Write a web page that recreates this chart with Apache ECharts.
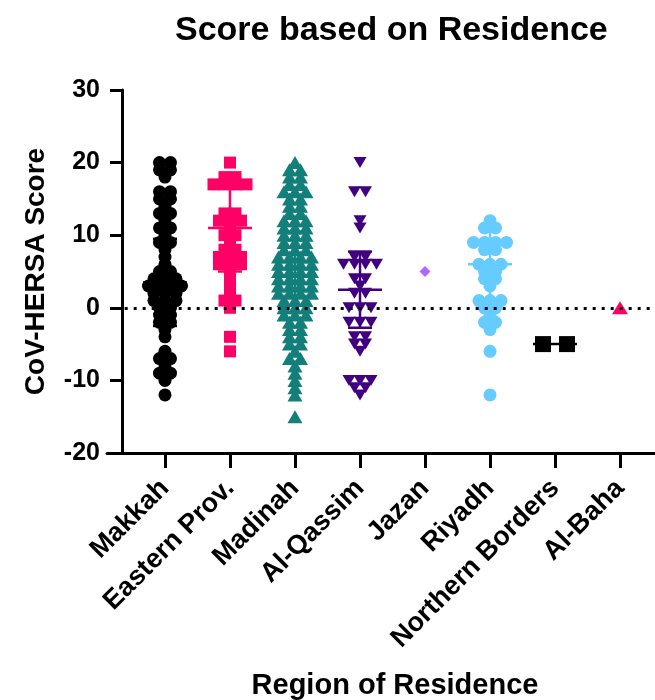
<!DOCTYPE html>
<html>
<head>
<meta charset="utf-8">
<script src="https://cdn.jsdelivr.net/npm/echarts@6/dist/echarts.min.js"></script>
<style>
  html, body { margin: 0; padding: 0; background: #fff; }
  #chart { width: 655px; height: 700px; }
</style>
</head>
<body>
<div id="chart"></div>
<script>
// categories
const regions = ['Makkah', 'Eastern Prov.', 'Madinah', 'Al-Qassim', 'Jazan', 'Riyadh', 'Northern Borders', 'Al-Baha'];
const yTicks = [-20, -10, 0, 10, 20, 30];

// individual scores per region
const makkah = [20, 20, 19, 19, 18, 16, 16, 15, 15, 14, 13, 13, 12, 11, 11, 10, 9, 9, 8, 7, 6, 5, 5, 4, 4, 4,
  3, 3, 3, 3, 2, 2, 2, 1, 1, 1, 0, 0, -1, -1, -2, -2, -3, -4, -6, -7, -7, -8, -9, -9, -10, -12];
const eastern = [20, 18, 18, 17, 17, 17, 17, 13, 13, 12, 12, 12, 11, 10, 10, 9, 8, 8, 7, 7, 7, 6, 6, 6, 5, 4,
  3, 2, 1, 1, 0, -4, -6];
const madinah = [20, 19, 19, 18, 18, 17, 17, 16, 16, 16, 15, 15, 14, 14, 13, 13, 12, 12, 12, 11, 11, 11,
  10, 10, 10, 9, 9, 9, 8, 8, 8, 7, 7, 7, 7, 6, 6, 6, 6, 5, 5, 5, 5, 4, 4, 4, 4, 3, 3, 3, 3, 2, 2, 2, 2,
  1, 1, 1, 0, 0, 0, -1, -1, -1, -2, -2, -3, -3, -4, -4, -5, -5, -6, -7, -7, -8, -9, -10, -11, -12, -15];
const qassim = [20, 16, 16, 12, 11, 7, 7, 6, 6, 6, 6, 4, 4, 3, 2, 2, 0, 0, 0, -2, -2, -2, -4, -4, -5, -5, -6,
  -10, -10, -10, -11, -11, -12];
const jazan = [5];
const riyadh = [12, 11, 11, 9, 9, 9, 9, 8, 8, 6, 6, 6, 5, 5, 4, 4, 3, 1, 1, 1, 0, 0, -1, -2, -2, -3, -6, -12];
const northern = [-5, -5];
const baha = [0];

// mean and error bar half-length per region (null = not drawn)
const means = [3.5, 11, 4.5, 2.5, null, 6, -5, null];
const errs = [6, 6, 6, 5.25, null, 5, 0, null];

const groups = [makkah, eastern, madinah, qassim, jazan, riyadh, northern, baha];

const styles = [
  { color: '#000000', symbol: 'circle', size: 13, rotate: 0, gap: 11 },
  { color: '#FF0066', symbol: 'rect', size: 12, rotate: 0, gap: 11 },
  { color: '#127F7B', symbol: 'triangle', size: [15, 13], rotate: 0, gap: 11 },
  { color: '#400080', symbol: 'triangle', size: [13, 11], rotate: 180, gap: 11 },
  { color: '#B266FF', symbol: 'diamond', size: 11, rotate: 0, gap: 11 },
  { color: '#66CCFF', symbol: 'circle', size: 13, rotate: 0, gap: 11 },
  { color: '#000000', symbol: 'rect', size: 16, rotate: 0, gap: 24 },
  { color: '#FF0066', symbol: 'triangle', size: [16, 13], rotate: 0, gap: 11 },
];

const gridLeft = 107, gridRight = 0, gridTop = 90, gridBottom = 247;
const xMin = 0.108, xMax = 8.538;
const pxPerUnit = (655 - gridLeft - gridRight) / (xMax - xMin);
const font = '"Liberation Sans", Arial, sans-serif';

// simple GraphPad-like layout: equal scores sit side by side, centred on the category
function swarm(values, pos, gapPx) {
  const counts = {};
  values.forEach(v => { counts[v] = (counts[v] || 0) + 1; });
  const seen = {};
  return values.map(v => {
    seen[v] = seen[v] === undefined ? 0 : seen[v] + 1;
    const off = (seen[v] - (counts[v] - 1) / 2) * gapPx / pxPerUnit;
    return [pos + off, v];
  });
}

const chart = echarts.init(document.getElementById('chart'), null, { renderer: 'canvas' });

const series = groups.map((vals, i) => ({
  name: regions[i],
  type: 'scatter',
  data: swarm(vals, i + 1, styles[i].gap),
  symbol: styles[i].symbol,
  symbolSize: styles[i].size,
  symbolRotate: styles[i].rotate,
  itemStyle: { color: styles[i].color, opacity: 1 },
  emphasis: { disabled: true },
  z: 3,
}));

const barData = [];
means.forEach((m, i) => {
  if (m !== null) barData.push([i + 1, m, errs[i], i]);
});

series.push({
  type: 'custom',
  z: 4,
  data: barData,
  renderItem(params, api) {
    const x = api.value(0), m = api.value(1), e = api.value(2);
    const color = styles[api.value(3)].color;
    const pm = api.coord([x, m]);
    const pt = api.coord([x, m + e]);
    const pb = api.coord([x, m - e]);
    const st = { stroke: color, lineWidth: 2.5 };
    const children = [
      { type: 'line', shape: { x1: pm[0] - 22, y1: pm[1], x2: pm[0] + 22, y2: pm[1] }, style: st },
    ];
    if (e > 0) {
      children.push(
        { type: 'line', shape: { x1: pt[0], y1: pt[1], x2: pb[0], y2: pb[1] }, style: st },
        { type: 'line', shape: { x1: pt[0] - 12, y1: pt[1], x2: pt[0] + 12, y2: pt[1] }, style: st },
        { type: 'line', shape: { x1: pb[0] - 12, y1: pb[1], x2: pb[0] + 12, y2: pb[1] }, style: st }
      );
    }
    return { type: 'group', children };
  },
});

// dotted zero line
series.push({
  type: 'line',
  data: [],
  markLine: {
    silent: true,
    symbol: 'none',
    label: { show: false },
    lineStyle: { color: '#000', width: 3, type: [3, 6], cap: 'butt' },
    data: [[{ coord: [0.38, 0] }, { coord: [xMax, 0] }]],
  },
  z: 1,
});

const option = {
  animation: false,
  backgroundColor: '#fff',
  title: {
    text: 'Score based on Residence',
    left: 170,
    top: 9,
    textStyle: { fontFamily: font, fontWeight: 'bold', fontSize: 34, color: '#000' },
  },
  grid: {
    left: gridLeft, right: gridRight, top: gridTop, bottom: gridBottom,
    containLabel: false, outerBoundsMode: 'none',
  },
  xAxis: {
    type: 'value',
    min: xMin,
    max: xMax,
    name: 'Region of Residence',
    nameLocation: 'middle',
    nameGap: 218,
    nameTextStyle: { fontFamily: font, fontWeight: 'bold', fontSize: 29, color: '#000', padding: [0, 0, 0, 28] },
    splitLine: { show: false },
    axisLine: { show: true, onZero: false, lineStyle: { color: '#000', width: 3 } },
    axisTick: { show: true, length: 15, lineStyle: { color: '#000', width: 3 }, customValues: [1, 2, 3, 4, 5, 6, 7, 8] },
    axisLabel: {
      customValues: [1, 2, 3, 4, 5, 6, 7, 8],
      formatter: v => regions[Math.round(v) - 1] || '',
      rotate: 45,
      margin: 31,
      fontFamily: font,
      fontWeight: 'bold',
      fontSize: 27,
      color: '#000',
    },
  },
  yAxis: {
    type: 'value',
    min: yTicks[0],
    max: yTicks[yTicks.length - 1],
    interval: 10,
    offset: -15,
    name: 'CoV-HERSA Score',
    nameLocation: 'middle',
    nameGap: 72,
    nameTextStyle: { fontFamily: font, fontWeight: 'bold', fontSize: 28, color: '#000' },
    splitLine: { show: false },
    axisLine: { show: true, lineStyle: { color: '#000', width: 3 } },
    axisTick: { show: true, length: 12, lineStyle: { color: '#000', width: 3 } },
    axisLabel: { margin: 22, fontFamily: font, fontWeight: 'bold', fontSize: 25, color: '#000' },
  },
  series,
};

chart.setOption(option);
</script>
</body>
</html>
